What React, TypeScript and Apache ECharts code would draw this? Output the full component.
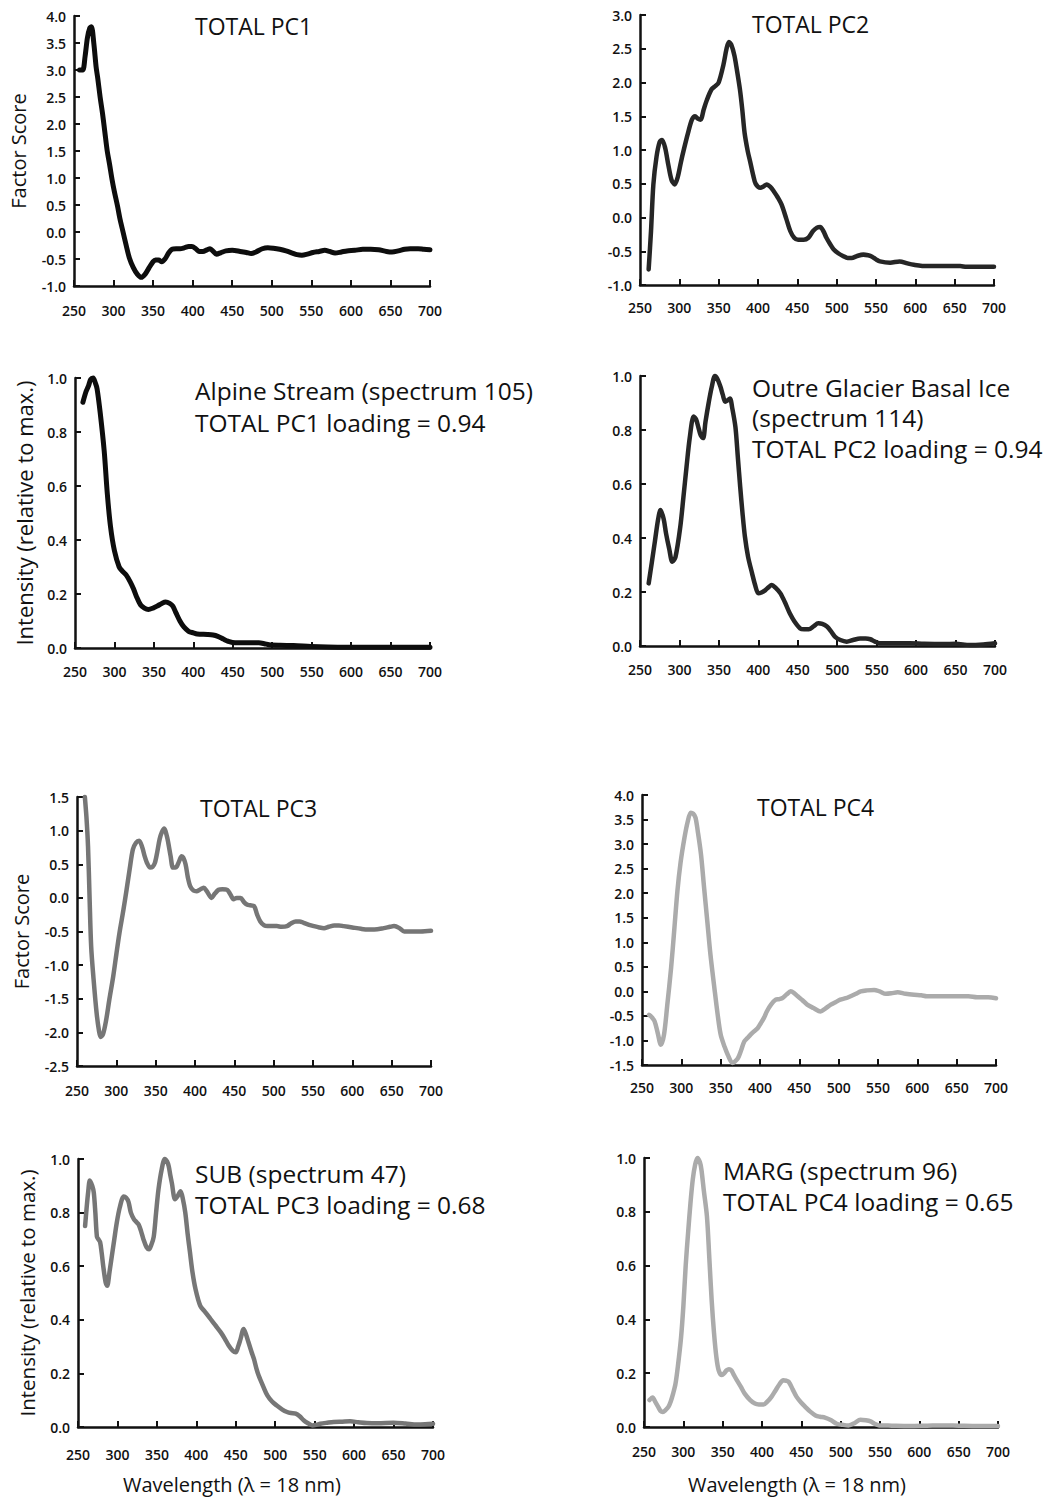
import { useEffect, useRef } from "react";
import * as echarts from "echarts";

type Pt = [number, number];

// Wavelength (nm) vs. factor score / relative intensity, one list per panel.
const pc1Scores: Pt[] = [
  [257, 3.0], [261, 3.0], [264, 3.25], [267, 3.6], [270, 3.78], [272, 3.8], [275, 3.5], [278, 3.05],
  [280, 2.85], [283, 2.5], [286, 2.2], [289, 1.85], [292, 1.5], [295, 1.25], [298, 0.98], [301, 0.75],
  [305, 0.48], [308, 0.25], [312, 0.0], [316, -0.25], [320, -0.48], [325, -0.66], [330, -0.78], [335, -0.84],
  [340, -0.78], [345, -0.66], [350, -0.55], [353, -0.52], [357, -0.52], [361, -0.55], [365, -0.5], [370, -0.38],
  [374, -0.32], [379, -0.31], [384, -0.31], [390, -0.29], [395, -0.27], [399, -0.27], [404, -0.31], [408, -0.36],
  [413, -0.36], [418, -0.33], [422, -0.31], [426, -0.36], [430, -0.41], [436, -0.38], [442, -0.35], [450, -0.34],
  [460, -0.36], [468, -0.38], [474, -0.4], [480, -0.37], [488, -0.31], [495, -0.29], [502, -0.3], [510, -0.32],
  [518, -0.35], [526, -0.39], [532, -0.42], [538, -0.43], [545, -0.41], [552, -0.38], [560, -0.36], [567, -0.34],
  [573, -0.36], [580, -0.39], [588, -0.37], [595, -0.35], [605, -0.34], [615, -0.32], [625, -0.32], [635, -0.33],
  [645, -0.36], [652, -0.37], [660, -0.35], [668, -0.32], [675, -0.31], [685, -0.31], [692, -0.32], [700, -0.33],
];

const pc2Scores: Pt[] = [
  [261, -0.77], [264, -0.2], [267, 0.49], [271, 0.9], [275, 1.12], [278, 1.15], [282, 1.03], [286, 0.78],
  [290, 0.56], [294, 0.49], [298, 0.6], [302, 0.82], [306, 1.02], [311, 1.25], [316, 1.45], [320, 1.5],
  [324, 1.46], [327, 1.45], [331, 1.6], [335, 1.74], [341, 1.9], [346, 1.95], [350, 2.0], [356, 2.26],
  [360, 2.5], [363, 2.6], [366, 2.56], [370, 2.4], [373, 2.2], [377, 1.9], [380, 1.6], [383, 1.25],
  [387, 0.98], [390, 0.83], [394, 0.62], [397, 0.5], [403, 0.44], [407, 0.46], [411, 0.49], [416, 0.45],
  [420, 0.39], [425, 0.3], [430, 0.19], [436, -0.02], [441, -0.2], [446, -0.3], [451, -0.33], [458, -0.33],
  [464, -0.3], [470, -0.2], [475, -0.15], [479, -0.14], [483, -0.2], [487, -0.3], [492, -0.4], [496, -0.47],
  [502, -0.53], [508, -0.57], [514, -0.6], [519, -0.6], [526, -0.57], [534, -0.55], [540, -0.56], [545, -0.58],
  [550, -0.62], [555, -0.65], [568, -0.67], [580, -0.65], [590, -0.68], [598, -0.7], [615, -0.72], [640, -0.72],
  [657, -0.72], [665, -0.73], [680, -0.73], [700, -0.73],
];

const alpineStream105: Pt[] = [
  [260, 0.91], [264, 0.95], [267, 0.97], [270, 0.995], [273, 1.0], [276, 0.98], [278, 0.96], [282, 0.87],
  [287, 0.73], [291, 0.57], [295, 0.45], [300, 0.36], [306, 0.3], [310, 0.285], [315, 0.27], [320, 0.245],
  [324, 0.22], [328, 0.19], [333, 0.16], [338, 0.148], [343, 0.143], [349, 0.148], [354, 0.155], [360, 0.165],
  [365, 0.17], [370, 0.165], [374, 0.155], [378, 0.13], [383, 0.1], [388, 0.078], [394, 0.062], [400, 0.056],
  [405, 0.052], [418, 0.05], [425, 0.048], [431, 0.043], [438, 0.033], [444, 0.025], [453, 0.019], [470, 0.019],
  [483, 0.019], [490, 0.016], [496, 0.012], [510, 0.01], [527, 0.009], [549, 0.006], [570, 0.004], [592, 0.003],
  [650, 0.003], [700, 0.003],
];

const outreGlacier114: Pt[] = [
  [261, 0.232], [265, 0.31], [269, 0.39], [273, 0.47], [276, 0.504], [280, 0.47], [283, 0.417], [287, 0.36],
  [291, 0.312], [295, 0.33], [301, 0.44], [305, 0.55], [309, 0.664], [313, 0.77], [318, 0.85], [321, 0.84],
  [324, 0.81], [327, 0.78], [330, 0.77], [333, 0.83], [337, 0.9], [341, 0.96], [345, 1.0], [348, 0.99],
  [352, 0.96], [355, 0.93], [358, 0.905], [361, 0.91], [364, 0.917], [367, 0.88], [371, 0.81], [374, 0.7],
  [377, 0.59], [380, 0.49], [383, 0.405], [387, 0.33], [392, 0.27], [396, 0.225], [400, 0.195], [404, 0.198],
  [409, 0.207], [413, 0.218], [417, 0.226], [422, 0.215], [428, 0.195], [434, 0.16], [440, 0.12], [446, 0.09],
  [453, 0.065], [458, 0.062], [464, 0.062], [470, 0.073], [476, 0.084], [481, 0.082], [487, 0.072], [492, 0.055],
  [497, 0.035], [504, 0.022], [512, 0.016], [520, 0.022], [529, 0.028], [536, 0.028], [542, 0.025], [548, 0.016],
  [554, 0.01], [575, 0.01], [592, 0.01], [610, 0.008], [635, 0.007], [650, 0.008], [668, 0.004], [685, 0.006],
  [700, 0.01],
];

const pc3Scores: Pt[] = [
  [260, 1.5], [262, 1.2], [264, 0.77], [266, 0.0], [268, -0.72], [271, -1.2], [275, -1.72], [278, -1.98],
  [280, -2.07], [283, -2.03], [287, -1.82], [291, -1.52], [296, -1.17], [300, -0.84], [304, -0.52], [309, -0.18],
  [313, 0.12], [317, 0.43], [321, 0.72], [325, 0.82], [329, 0.85], [333, 0.75], [336, 0.62], [339, 0.52],
  [343, 0.45], [346, 0.46], [349, 0.52], [352, 0.68], [355, 0.87], [358, 0.98], [361, 1.03], [364, 0.93],
  [366, 0.82], [369, 0.62], [372, 0.45], [375, 0.45], [377, 0.47], [380, 0.55], [383, 0.62], [385, 0.6],
  [388, 0.5], [391, 0.3], [394, 0.17], [398, 0.11], [402, 0.1], [406, 0.12], [411, 0.15], [415, 0.1],
  [421, 0.0], [425, 0.06], [430, 0.12], [435, 0.13], [441, 0.12], [445, 0.05], [449, -0.02], [453, 0.0],
  [458, 0.0], [462, -0.06], [466, -0.1], [470, -0.11], [475, -0.12], [479, -0.25], [483, -0.35], [488, -0.41],
  [492, -0.42], [500, -0.42], [504, -0.42], [510, -0.43], [517, -0.42], [522, -0.38], [528, -0.35], [533, -0.35],
  [538, -0.37], [545, -0.4], [551, -0.42], [558, -0.44], [564, -0.45], [570, -0.43], [577, -0.41], [583, -0.41],
  [589, -0.42], [600, -0.44], [611, -0.46], [620, -0.47], [628, -0.47], [640, -0.45], [648, -0.43], [653, -0.42],
  [660, -0.45], [666, -0.5], [675, -0.5], [687, -0.5], [700, -0.49],
];

const pc4Scores: Pt[] = [
  [259, -0.48], [262, -0.52], [266, -0.61], [270, -0.85], [274, -1.09], [278, -0.88], [282, -0.3], [287, 0.48],
  [291, 1.25], [295, 2.04], [299, 2.62], [304, 3.13], [308, 3.45], [312, 3.64], [315, 3.62], [318, 3.54],
  [321, 3.25], [325, 2.79], [329, 2.1], [333, 1.43], [337, 0.75], [342, 0.07], [346, -0.45], [350, -0.88],
  [355, -1.13], [359, -1.29], [365, -1.46], [368, -1.43], [372, -1.36], [376, -1.2], [380, -1.02], [384, -0.95],
  [388, -0.88], [392, -0.82], [397, -0.75], [401, -0.65], [405, -0.54], [409, -0.4], [414, -0.27], [420, -0.17],
  [424, -0.16], [428, -0.14], [434, -0.06], [439, 0.0], [443, -0.03], [448, -0.1], [454, -0.18], [460, -0.27],
  [468, -0.34], [477, -0.41], [483, -0.35], [490, -0.27], [496, -0.22], [502, -0.17], [509, -0.14], [515, -0.1],
  [522, -0.05], [528, 0.0], [536, 0.02], [545, 0.03], [552, 0.0], [560, -0.05], [567, -0.04], [575, -0.02],
  [585, -0.05], [596, -0.07], [605, -0.08], [612, -0.1], [625, -0.1], [640, -0.1], [655, -0.1], [665, -0.1],
  [676, -0.12], [690, -0.12], [700, -0.14],
];

const sub47: Pt[] = [
  [259, 0.75], [261, 0.82], [263, 0.88], [265, 0.92], [268, 0.9], [270, 0.875], [272, 0.8], [274, 0.71],
  [276, 0.7], [278, 0.69], [280, 0.65], [282, 0.6], [285, 0.54], [287, 0.527], [290, 0.58], [293, 0.64],
  [296, 0.7], [299, 0.76], [303, 0.82], [308, 0.86], [311, 0.855], [314, 0.84], [317, 0.8], [321, 0.775],
  [324, 0.765], [327, 0.755], [330, 0.73], [333, 0.7], [337, 0.67], [340, 0.663], [343, 0.68], [346, 0.71],
  [349, 0.8], [352, 0.886], [356, 0.96], [360, 1.0], [363, 0.99], [365, 0.973], [367, 0.94], [369, 0.91],
  [373, 0.85], [376, 0.86], [380, 0.88], [383, 0.85], [386, 0.8], [389, 0.72], [392, 0.65], [395, 0.58],
  [399, 0.514], [405, 0.452], [411, 0.43], [418, 0.403], [424, 0.38], [431, 0.353], [436, 0.33], [441, 0.304],
  [446, 0.285], [450, 0.279], [453, 0.3], [456, 0.328], [460, 0.366], [463, 0.345], [466, 0.317], [470, 0.28],
  [473, 0.254], [476, 0.22], [479, 0.192], [485, 0.15], [490, 0.118], [496, 0.095], [502, 0.08], [509, 0.065],
  [515, 0.056], [520, 0.052], [526, 0.05], [531, 0.04], [536, 0.025], [541, 0.015], [547, 0.006], [552, 0.008],
  [557, 0.012], [566, 0.016], [574, 0.019], [585, 0.02], [595, 0.021], [605, 0.018], [616, 0.015], [630, 0.014],
  [650, 0.016], [665, 0.013], [680, 0.009], [690, 0.01], [700, 0.012],
];

const marg96: Pt[] = [
  [257, 0.1], [261, 0.11], [264, 0.095], [268, 0.075], [271, 0.06], [274, 0.056], [277, 0.062], [281, 0.075],
  [284, 0.095], [287, 0.124], [290, 0.16], [293, 0.224], [297, 0.33], [300, 0.447], [303, 0.6], [306, 0.72],
  [309, 0.83], [312, 0.92], [315, 0.975], [318, 1.0], [321, 0.985], [323, 0.957], [326, 0.88], [330, 0.783],
  [333, 0.63], [336, 0.472], [339, 0.35], [342, 0.26], [345, 0.21], [349, 0.193], [352, 0.2], [355, 0.211],
  [358, 0.215], [361, 0.211], [364, 0.195], [368, 0.174], [373, 0.15], [378, 0.124], [385, 0.1], [391, 0.087],
  [396, 0.084], [402, 0.084], [407, 0.095], [412, 0.112], [417, 0.135], [422, 0.158], [427, 0.174], [431, 0.172],
  [434, 0.168], [439, 0.14], [444, 0.112], [450, 0.09], [455, 0.075], [461, 0.058], [468, 0.043], [474, 0.038],
  [480, 0.035], [488, 0.025], [495, 0.012], [503, 0.008], [510, 0.006], [518, 0.015], [525, 0.027], [532, 0.025],
  [538, 0.021], [543, 0.012], [549, 0.006], [565, 0.005], [587, 0.004], [610, 0.005], [629, 0.006], [650, 0.005],
  [675, 0.004], [700, 0.004],
];

const X_MIN = 250;
const X_MAX = 700;
const X_STEP = 50;

const FONT = "'Open Sans', 'DejaVu Sans', sans-serif";
const INK = "#111111";

interface Panel {
  data: Pt[];
  box: { left: number; top: number; width: number; height: number };
  yMin: number;
  yMax: number;
  yStep: number;
  color: string;
  lineWidth: number;
  xLabelMargin: number;
  yName?: string;
  yNameGap?: number;
  yNameSize?: number;
}

const panels: Panel[] = [
  { data: pc1Scores, box: { left: 74, top: 16, width: 356, height: 270 }, yMin: -1, yMax: 4, yStep: 0.5, color: "#0d0d0d", lineWidth: 5, xLabelMargin: 17, yName: "Factor Score", yNameGap: 46, yNameSize: 20 },
  { data: pc2Scores, box: { left: 640, top: 15, width: 354, height: 270 }, yMin: -1, yMax: 3, yStep: 0.5, color: "#262626", lineWidth: 4.5, xLabelMargin: 15 },
  { data: alpineStream105, box: { left: 75, top: 378, width: 355, height: 270 }, yMin: 0, yMax: 1, yStep: 0.2, color: "#0d0d0d", lineWidth: 5, xLabelMargin: 16, yName: "Intensity (relative to max.)", yNameGap: 40, yNameSize: 22 },
  { data: outreGlacier114, box: { left: 640, top: 376, width: 355, height: 270 }, yMin: 0, yMax: 1, yStep: 0.2, color: "#262626", lineWidth: 4.5, xLabelMargin: 16 },
  { data: pc3Scores, box: { left: 77, top: 797, width: 354, height: 269 }, yMin: -2.5, yMax: 1.5, yStep: 0.5, color: "#767676", lineWidth: 4.5, xLabelMargin: 17, yName: "Factor Score", yNameGap: 46, yNameSize: 20 },
  { data: pc4Scores, box: { left: 642, top: 795, width: 354, height: 270 }, yMin: -1.5, yMax: 4, yStep: 0.5, color: "#ababab", lineWidth: 4.5, xLabelMargin: 15 },
  { data: sub47, box: { left: 78, top: 1159, width: 355, height: 268 }, yMin: 0, yMax: 1, yStep: 0.2, color: "#767676", lineWidth: 4.5, xLabelMargin: 20, yName: "Intensity (relative to max.)", yNameGap: 41, yNameSize: 20.5 },
  { data: marg96, box: { left: 644, top: 1158, width: 354, height: 269 }, yMin: 0, yMax: 1, yStep: 0.2, color: "#ababab", lineWidth: 4.5, xLabelMargin: 17 },
];

interface Caption {
  text: string;
  left: number;
  top: number;
  size: number;
  lineHeight: number;
}

const captions: Caption[] = [
  { text: "TOTAL PC1", left: 195, top: 12, size: 23, lineHeight: 28 },
  { text: "TOTAL PC2", left: 752, top: 10, size: 23, lineHeight: 28 },
  { text: "Alpine Stream (spectrum 105)\nTOTAL PC1 loading = 0.94", left: 195, top: 374, size: 24.5, lineHeight: 32 },
  { text: "Outre Glacier Basal Ice\n(spectrum 114)\nTOTAL PC2 loading = 0.94", left: 752, top: 372, size: 24.5, lineHeight: 30.5 },
  { text: "TOTAL PC3", left: 200, top: 794, size: 23, lineHeight: 28 },
  { text: "TOTAL PC4", left: 757, top: 793, size: 23, lineHeight: 28 },
  { text: "SUB (spectrum 47)\nTOTAL PC3 loading = 0.68", left: 195, top: 1158, size: 24.5, lineHeight: 31 },
  { text: "MARG (spectrum 96)\nTOTAL PC4 loading = 0.65", left: 723, top: 1155, size: 24.5, lineHeight: 31 },
  { text: "Wavelength (\u03bb = 18 nm)", left: 123, top: 1470, size: 20, lineHeight: 28 },
  { text: "Wavelength (\u03bb = 18 nm)", left: 688, top: 1470, size: 20, lineHeight: 28 },
];

function buildOption(): echarts.EChartsCoreOption {
  const grid = panels.map((p) => ({ ...p.box, containLabel: false }));

  const xAxis = panels.map((p, i) => ({
    type: "value",
    gridIndex: i,
    min: X_MIN,
    max: X_MAX,
    interval: X_STEP,
    splitLine: { show: false },
    axisLine: { show: true, onZero: false, lineStyle: { color: INK, width: 2.5 } },
    axisTick: { show: true, inside: true, length: 6, lineStyle: { color: INK, width: 2 } },
    axisLabel: {
      margin: p.xLabelMargin,
      color: INK,
      fontFamily: FONT,
      fontSize: 14,
      fontWeight: 600,
      showMinLabel: true,
      showMaxLabel: true,
    },
  }));

  const yAxis = panels.map((p, i) => ({
    type: "value",
    gridIndex: i,
    min: p.yMin,
    max: p.yMax,
    interval: p.yStep,
    splitLine: { show: false },
    axisLine: { show: true, onZero: false, lineStyle: { color: INK, width: 2.5 } },
    axisTick: { show: true, inside: true, length: 6, lineStyle: { color: INK, width: 2 } },
    axisLabel: {
      margin: 8,
      color: INK,
      fontFamily: FONT,
      fontSize: 14,
      fontWeight: 600,
      formatter: (v: number) => v.toFixed(1),
    },
    name: p.yName ?? "",
    nameLocation: "middle",
    nameRotate: 90,
    nameGap: p.yNameGap ?? 40,
    nameTextStyle: {
      color: INK,
      fontFamily: FONT,
      fontSize: p.yNameSize ?? 20,
    },
  }));

  const series = panels.map((p, i) => ({
    type: "line",
    xAxisIndex: i,
    yAxisIndex: i,
    data: p.data,
    showSymbol: false,
    smooth: 0.3,
    clip: false,
    lineStyle: { color: p.color, width: p.lineWidth, cap: "round", join: "round" },
    z: 3,
  }));

  const title = captions.map((c) => ({
    text: c.text,
    left: c.left,
    top: c.top,
    padding: 0,
    textStyle: {
      color: INK,
      fontFamily: FONT,
      fontWeight: "normal",
      fontSize: c.size,
      lineHeight: c.lineHeight,
    },
  }));

  return {
    animation: false,
    backgroundColor: "#ffffff",
    title,
    grid,
    xAxis,
    yAxis,
    series,
  };
}

export default function App() {
  const ref = useRef<HTMLDivElement>(null);

  useEffect(() => {
    document.body.style.margin = "0";
    if (!ref.current) return;
    const chart = echarts.init(ref.current, undefined, { renderer: "svg" });
    chart.setOption(buildOption());
    return () => {
      chart.dispose();
    };
  }, []);

  return <div ref={ref} style={{ width: 1050, height: 1501, background: "#fff" }} />;
}
